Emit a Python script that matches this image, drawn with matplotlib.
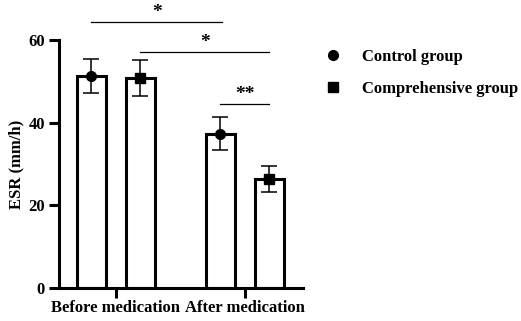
import numpy as np
import matplotlib
matplotlib.use("Agg")
import matplotlib.pyplot as plt

plt.rcParams['font.family'] = ['Liberation Serif', 'DejaVu Serif']
plt.rcParams['font.weight'] = 'bold'

groups = ['Before medication', 'After medication']
control_mean = [51.3, 37.3]
control_err = [4.2, 4.0]
compre_mean = [50.8, 26.4]
compre_err = [4.3, 3.2]

# significance brackets: (x1, x2, y, label)
sig = [(-0.19, 0.825, 64.4, '*'),
       (0.19, 1.19, 57.1, '*'),
       (0.81, 1.19, 44.5, '**')]

FS = 12

fig = plt.figure(figsize=(5.21, 3.21), dpi=100)
ax = fig.add_axes([0.113, 0.103, 0.468, 0.772])

x = np.arange(len(groups))
off = 0.19
w = 0.225
lw = 2.2

ax.bar(x - off, control_mean, w, color='white', edgecolor='black', linewidth=lw, zorder=2)
ax.bar(x + off, compre_mean, w, color='white', edgecolor='black', linewidth=lw, zorder=2)
ax.errorbar(x - off, control_mean, yerr=control_err, fmt='o', color='black',
            markersize=7, capsize=5.8, elinewidth=1.1, capthick=1.1, zorder=3,
            label='Control group')
ax.errorbar(x + off, compre_mean, yerr=compre_err, fmt='s', color='black',
            markersize=6.5, capsize=5.8, elinewidth=1.1, capthick=1.1, zorder=3,
            label='Comprehensive group')

for x1, x2, y, lab in sig:
    ax.plot([x1, x2], [y, y], color='black', linewidth=0.9, clip_on=False)
    ax.text((x1 + x2) / 2, y + 0.3, lab, ha='center', va='bottom', fontsize=14,
            fontweight='bold', clip_on=False)

ax.set_xlim(-0.442, 1.45)
ax.set_ylim(0, 60)
ax.set_yticks([0, 20, 40, 60])
ax.set_xticks(x)
ax.set_xticklabels(groups, fontsize=FS, fontweight='bold')
ax.tick_params(axis='y', labelsize=FS, width=lw, length=7, pad=3)
ax.tick_params(axis='x', width=lw, length=7, pad=2)
for lab in ax.get_yticklabels():
    lab.set_fontweight('bold')
ax.set_ylabel('ESR (mm/h)', fontsize=FS, fontweight='bold', labelpad=3)

ax.spines['top'].set_visible(False)
ax.spines['right'].set_visible(False)
ax.spines['left'].set_linewidth(lw)
ax.spines['bottom'].set_linewidth(lw)

h, l = ax.get_legend_handles_labels()
h = [hh[0] for hh in h]
leg = fig.legend(h, l, loc='upper left', bbox_to_anchor=(0.625, 0.848), frameon=False,
                 fontsize=FS, handlelength=0.9, handletextpad=1.3, labelspacing=0.95,
                 borderpad=0, borderaxespad=0)

fig.savefig('out.png', dpi=100)
